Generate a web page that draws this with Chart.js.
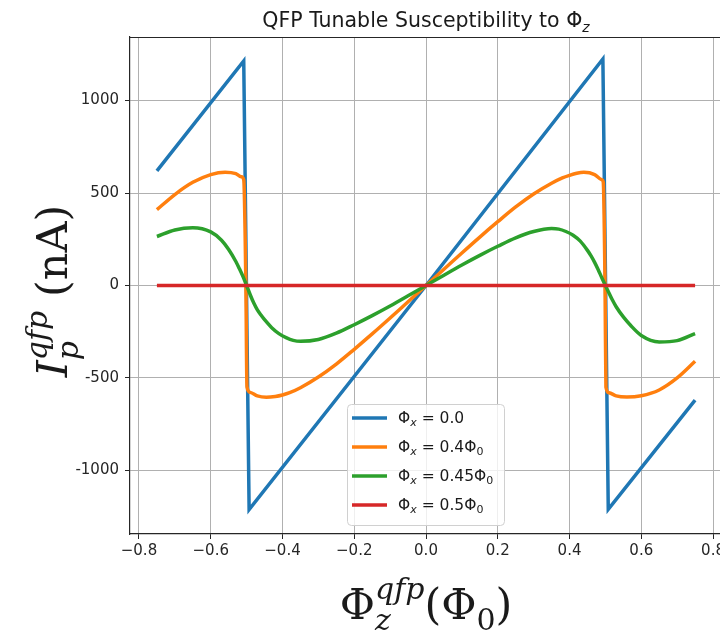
<!DOCTYPE html>
<html>
<head>
<meta charset="utf-8">
<script src="https://cdn.jsdelivr.net/npm/chart.js@4.4.0/dist/chart.umd.min.js"></script>
<style>
  html, body { margin: 0; padding: 0; background: #fff; }
  body { width: 720px; height: 632px; overflow: hidden; }
  #wrap { width: 740px; height: 632px; }
</style>
</head>
<body>
<div id="wrap"><canvas id="qfpChart" width="740" height="632"></canvas></div>
<script>
// flux bias values shown in the legend (in units of Phi_0)
const biasLabels = ['0.0', '0.4', '0.45', '0.5'];
const lineColors = ['#1f77b4', '#ff7f0e', '#2ca02c', '#d62728'];

// Phi_x = 0.0 : sawtooth
const phiZ0 = [-0.75, -0.508, -0.493, 0, 0.493, 0.508, 0.75];
const ip0   = [620, 1215, -1212, 0, 1225, -1210, -620];

// Phi_x = 0.4 Phi_0
const phiZ1 = [-0.75, -0.70, -0.65, -0.60, -0.56, -0.53, -0.515, -0.508, -0.502, -0.499, -0.49, -0.47, -0.445, -0.42, -0.40,
               -0.38, -0.35, -0.30, -0.25, -0.20, -0.15, -0.10, -0.05, 0, 0.05, 0.10, 0.15, 0.20, 0.25, 0.30, 0.35,
               0.38, 0.40, 0.42, 0.44, 0.47, 0.49, 0.494, 0.499, 0.5015, 0.51, 0.53, 0.56, 0.60, 0.65, 0.70, 0.75];
const ip1   = [410, 492, 558, 600, 613, 605, 588, 572, 0, -548, -578, -597, -604, -600, -592,
               -580, -553, -495, -425, -345, -262, -176, -88, 0, 88, 176, 262, 345, 425, 495, 553,
               582, 596, 607, 612, 600, 572, 560, 0, -550, -580, -597, -603, -596, -565, -500, -410];

// Phi_x = 0.45 Phi_0
const phiZ2 = [-0.75, -0.70, -0.65, -0.60, -0.57, -0.55, -0.53, -0.52, -0.51, -0.50, -0.49, -0.48, -0.47, -0.46, -0.45,
               -0.43, -0.41, -0.39, -0.37, -0.35, -0.30, -0.25, -0.20, -0.15, -0.10, -0.05, 0, 0.05, 0.10, 0.15, 0.20,
               0.25, 0.30, 0.35, 0.37, 0.39, 0.41, 0.43, 0.45, 0.46, 0.47, 0.48, 0.49, 0.50, 0.51, 0.52, 0.53, 0.55,
               0.57, 0.60, 0.65, 0.70, 0.75];
const ip2   = [265, 300, 312, 290, 245, 195, 130, 90, 48, 0, -50, -95, -132, -160, -185,
               -228, -260, -282, -297, -302, -292, -258, -212, -163, -111, -56, 0, 56, 111, 163, 212,
               258, 292, 308, 305, 292, 272, 240, 190, 160, 125, 85, 42, 0, -40, -80, -115, -170,
               -215, -270, -305, -298, -260];

// Phi_x = 0.5 Phi_0 : no circulating current
const phiZ3 = [-0.75, 0.75];
const ip3   = [0, 0];

const xTicks = [-0.8, -0.6, -0.4, -0.2, 0.0, 0.2, 0.4, 0.6, 0.8];
const yTicks = [-1000, -500, 0, 500, 1000];

const toPoints = (xs, ys) => xs.map((x, i) => ({ x: x, y: ys[i] }));
const seriesX = [phiZ0, phiZ1, phiZ2, phiZ3];
const seriesY = [ip0, ip1, ip2, ip3];
const smooth = [false, true, true, false];

const datasets = seriesX.map((xs, i) => ({
    label: 'Phi_x = ' + biasLabels[i],
    data: toPoints(xs, seriesY[i]),
    borderColor: lineColors[i],
    backgroundColor: lineColors[i],
    borderWidth: 3.5,
    pointRadius: 0,
    fill: false,
    tension: 0,
    cubicInterpolationMode: smooth[i] ? 'monotone' : 'default',
    order: 4 - i   // later series are drawn on top
}));

// draw a run of text pieces; a piece is {t, f, dy} or a stacked script {sup, sub, f, up, down}
function richWidth(ctx, parts) {
    let w = 0;
    parts.forEach(p => {
        ctx.font = p.f;
        if (p.t !== undefined) p.w = ctx.measureText(p.t).width;
        else p.w = Math.max(ctx.measureText(p.sup || '').width, ctx.measureText(p.sub || '').width);
        w += p.w;
    });
    return w;
}

function drawRich(ctx, parts, x, y, align) {
    const w = richWidth(ctx, parts);
    let cx = align === 'center' ? x - w / 2 : x;
    ctx.textAlign = 'left';
    ctx.textBaseline = 'alphabetic';
    parts.forEach(p => {
        ctx.font = p.f;
        if (p.t !== undefined) {
            ctx.fillText(p.t, cx, y + (p.dy || 0));
        } else {
            if (p.sup) ctx.fillText(p.sup, cx, y - p.up);
            if (p.sub) ctx.fillText(p.sub, cx, y + p.down);
        }
        cx += p.w;
    });
}

const decorations = {
    id: 'decorations',
    afterDraw(chart) {
        const ctx = chart.ctx;
        const area = chart.chartArea;
        ctx.save();

        // top spine
        ctx.strokeStyle = '#262626';
        ctx.lineWidth = 1.2;
        ctx.beginPath();
        ctx.moveTo(area.left, area.top + 0.5);
        ctx.lineTo(area.right, area.top + 0.5);
        ctx.stroke();

        ctx.fillStyle = '#1a1a1a';
        const mid = (area.left + area.right) / 2;

        // title
        drawRich(ctx, [
            { t: 'QFP Tunable Susceptibility to Φ', f: '20.5px "DejaVu Sans"' },
            { t: 'z', f: 'italic 14px "DejaVu Sans"', dy: 5 }
        ], mid, 27, 'center');

        // x axis title
        const big = '43px "DejaVu Serif"';
        const script = 'italic 30px "DejaVu Serif"';
        drawRich(ctx, [
            { t: 'Φ', f: big },
            { sup: 'qfp', sub: 'z', f: script, up: 20, down: 11 },
            { t: '(Φ', f: big },
            { t: '0', f: '30px "DejaVu Serif"', dy: 11 },
            { t: ')', f: big }
        ], mid, 619, 'center');

        // y axis title, rotated
        ctx.save();
        ctx.translate(67, 291);
        ctx.rotate(-Math.PI / 2);
        drawRich(ctx, [
            { t: 'I', f: 'italic ' + big },
            { sup: 'qfp', sub: 'p', f: script, up: 20, down: 11 },
            { t: ' (nA)', f: big }
        ], 0, 0, 'center');
        ctx.restore();

        // legend
        const lx = 347, ly = 404, lw = 157, lh = 121;
        ctx.beginPath();
        ctx.roundRect(lx + 0.5, ly + 0.5, lw, lh, 4);
        ctx.fillStyle = 'rgba(255,255,255,0.8)';
        ctx.fill();
        ctx.strokeStyle = '#d0d0d0';
        ctx.lineWidth = 1;
        ctx.stroke();

        biasLabels.forEach((b, i) => {
            const rowY = 418 + i * 29;
            ctx.strokeStyle = lineColors[i];
            ctx.lineWidth = 3.5;
            ctx.beginPath();
            ctx.moveTo(352, rowY);
            ctx.lineTo(387, rowY);
            ctx.stroke();

            ctx.fillStyle = '#1a1a1a';
            const parts = [
                { t: 'Φ', f: '15.5px "DejaVu Sans"' },
                { t: 'x', f: 'italic 11px "DejaVu Sans"', dy: 3 },
                { t: ' = ' + b, f: '15.5px "DejaVu Sans"' }
            ];
            if (i > 0) {
                parts.push({ t: 'Φ', f: '15.5px "DejaVu Sans"' });
                parts.push({ t: '0', f: '11px "DejaVu Sans"', dy: 3 });
            }
            drawRich(ctx, parts, 398, rowY + 5, 'left');
        });

        ctx.restore();
    }
};

new Chart(document.getElementById('qfpChart'), {
    type: 'line',
    data: { datasets: datasets },
    options: {
        responsive: false,
        animation: false,
        devicePixelRatio: 1,
        layout: { padding: { top: 37, right: 18, left: 0, bottom: 0 } },
        plugins: {
            legend: { display: false },
            tooltip: { enabled: false },
            title: { display: false }
        },
        scales: {
            x: {
                type: 'linear',
                min: -0.825,
                max: 0.825,
                afterBuildTicks: s => { s.ticks = xTicks.map(v => ({ value: v })); },
                afterFit: s => { s.height = 98; },
                ticks: {
                    callback: v => v.toFixed(1).replace('-', '\u2212'),
                    font: { family: 'DejaVu Sans', size: 15 },
                    color: '#262626',
                    padding: 3,
                    maxRotation: 0,
                    autoSkip: false
                },
                grid: { color: '#b0b0b0', lineWidth: 1, tickLength: 5, tickColor: '#262626' },
                border: { color: '#262626', width: 1.2 }
            },
            y: {
                type: 'linear',
                min: -1344,
                max: 1344,
                afterBuildTicks: s => { s.ticks = yTicks.map(v => ({ value: v })); },
                afterFit: s => { s.width = 130; },
                ticks: {
                    callback: v => String(v),
                    font: { family: 'DejaVu Sans', size: 15 },
                    color: '#262626',
                    padding: 6,
                    autoSkip: false
                },
                grid: { color: '#b0b0b0', lineWidth: 1, tickLength: 5, tickColor: '#262626' },
                border: { color: '#262626', width: 1.2 }
            }
        }
    },
    plugins: [decorations]
});
</script>
</body>
</html>
